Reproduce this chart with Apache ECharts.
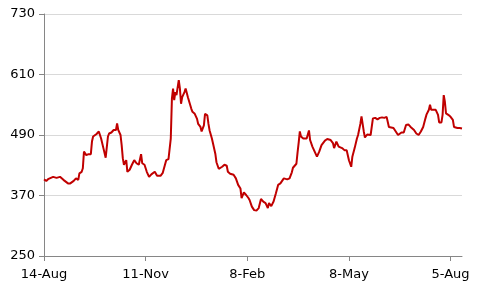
<!DOCTYPE html>
<html>
<head>
<meta charset="utf-8">
<script src="https://cdn.jsdelivr.net/npm/echarts@6/dist/echarts.min.js"></script>
<style>html,body{margin:0;padding:0;background:#fff}#c{width:481px;height:289px}</style>
</head>
<body>
<div id="c"></div>
<script>
// Category dates: daily from 14-Aug to 15-Aug of the following (non-leap-Feb) year
var startDate = new Date(Date.UTC(2014, 7, 14));
var dayCount = 367;
var monthNames = ['Jan','Feb','Mar','Apr','May','Jun','Jul','Aug','Sep','Oct','Nov','Dec'];
var categories = [];
for (var i = 0; i < dayCount; i++) {
  var d = new Date(startDate.getTime() + i * 86400000);
  categories.push(d.getUTCDate() + '-' + monthNames[d.getUTCMonth()]);
}

// Day index (position in categories) of each read-off point
var dayIndex = [0,2,4,8,11,14,17,21,23,26,28,30,31,33,34,35,37,39,41,42,43,46,48,50,52,54,56,57,59,61,63,64,65,67,68,69,70,72,73,75,77,79,81,83,85,86,88,90,92,94,97,99,102,104,105,107,109,110,111,112,113,114,115,116,118,119,120,121,123,124,126,127,129,130,132,134,135,137,138,140,141,143,144,145,147,148,150,151,153,156,158,160,161,163,166,168,170,172,173,175,177,179,180,182,184,186,188,190,192,194,196,197,199,201,203,205,207,208,210,213,215,217,218,221,222,223,224,225,227,230,232,233,235,237,239,241,243,246,248,251,253,254,256,258,261,263,265,266,267,269,270,272,274,275,277,278,280,281,283,284,286,287,288,290,292,294,296,298,300,302,303,306,308,310,311,313,315,317,319,321,322,324,326,328,330,332,334,335,337,338,339,341,343,345,346,348,349,350,351,352,354,356,358,359,362,364,365,366];
// Price values
var values = [402,399,403,407,405,407,401,394,394,399,404,401,414,417,424,457,450,452,452,477,487,492,497,483,464,445,487,493,495,500,500,513,500,490,470,444,431,440,417,421,431,440,434,431,452,434,431,417,407,412,417,409,409,415,414,440,442,440,483,562,582,559,575,569,599,582,552,565,575,582,565,565,542,536,532,522,512,506,497,509,532,529,512,499,483,473,453,436,423,427,431,429,417,413,411,404,391,384,365,376,371,365,361,348,341,340,345,363,358,355,345,355,349,358,374,391,394,391,404,402,404,416,425,433,455,475,497,487,483,483,499,480,467,457,447,457,470,479,482,480,474,464,477,467,464,460,460,450,440,427,447,464,483,490,512,527,497,485,491,493,490,491,523,524,521,524,525,524,526,506,504,504,497,490,491,495,495,510,511,506,504,500,493,490,497,506,523,531,540,550,540,540,540,530,515,515,530,569,556,533,530,526,520,506,504,504,503,503];

// Y axis ticks
var yTicks = [250, 370, 490, 610, 730];

var seriesData = dayIndex.map(function (idx, k) { return [idx, values[k]]; });

var chart = echarts.init(document.getElementById('c'), null, {renderer: 'canvas'});
var font = 'DejaVu Sans';
chart.setOption({
  animation: false,
  backgroundColor: '#ffffff',
  grid: {left: 44, right: 19, top: 14, bottom: 33, containLabel: false},
  xAxis: {
    type: 'category',
    data: categories,
    boundaryGap: false,
    axisLine: {show: true, lineStyle: {color: '#868686', width: 1}},
    axisTick: {show: true, interval: 88, length: 5, lineStyle: {color: '#868686'}},
    axisLabel: {interval: 88, margin: 12, color: '#000000', fontSize: 13, fontFamily: font},
    splitLine: {show: false}
  },
  yAxis: {
    type: 'value',
    min: yTicks[0],
    max: yTicks[yTicks.length - 1],
    interval: yTicks[1] - yTicks[0],
    axisLine: {show: true, lineStyle: {color: '#868686', width: 1}},
    axisTick: {show: true, length: 5, lineStyle: {color: '#868686'}},
    axisLabel: {margin: 9, color: '#000000', fontSize: 13, fontFamily: font},
    splitLine: {show: true, lineStyle: {color: '#d9d9d9', width: 1}}
  },
  series: [{
    type: 'line',
    data: seriesData,
    showSymbol: false,
    symbol: 'none',
    lineStyle: {color: '#c00000', width: 2},
    itemStyle: {color: '#c00000'}
  }]
});
</script>
</body>
</html>
